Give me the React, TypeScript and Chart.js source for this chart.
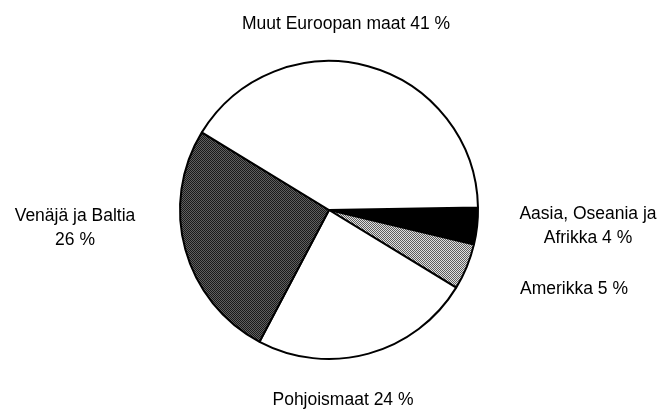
import React, { useEffect, useRef } from "react";
import { Chart, registerables } from "chart.js";

Chart.register(...registerables);

const categories = [
  "Aasia, Oseania ja Afrikka",
  "Amerikka",
  "Pohjoismaat",
  "Venäjä ja Baltia",
  "Muut Euroopan maat",
];
const shares = [4, 5, 24, 26, 41];

// label layout: lines (with value placeholder), center x, first baseline y
const labelLayout = [
  { lines: ["Aasia, Oseania ja", "Afrikka {v} %"], x: 588, y: 219 },
  { lines: ["Amerikka {v} %"], x: 574, y: 294 },
  { lines: ["Pohjoismaat {v} %"], x: 343, y: 405 },
  { lines: ["Venäjä ja Baltia", "{v} %"], x: 75, y: 221 },
  { lines: ["Muut Euroopan maat {v} %"], x: 346, y: 29 },
];

function makePattern(a: string, b: string, size = 2) {
  const c = document.createElement("canvas");
  c.width = size;
  c.height = size;
  const ctx = c.getContext("2d")!;
  ctx.fillStyle = a;
  ctx.fillRect(0, 0, size, size);
  ctx.fillStyle = b;
  ctx.fillRect(0, 0, 1, 1);
  ctx.fillRect(1, 1, 1, 1);
  return ctx.createPattern(c, "repeat")!;
}

const labelPlugin = {
  id: "outerLabels",
  afterDraw(chart: any) {
    const ctx = chart.ctx;
    const vals = chart.data.datasets[0].data;
    ctx.save();
    ctx.fillStyle = "#000";
    ctx.font = "17.5px 'Liberation Sans', Arial, sans-serif";
    ctx.textAlign = "center";
    ctx.textBaseline = "alphabetic";
    labelLayout.forEach((l, i) => {
      l.lines.forEach((line, j) => {
        ctx.fillText(line.replace("{v}", String(vals[i])), l.x, l.y + j * 24);
      });
    });
    ctx.restore();
  },
};

export default function App() {
  const ref = useRef<HTMLCanvasElement>(null);
  useEffect(() => {
    const colors = [
      "#000000",
      makePattern("#e0e0e0", "#5e5e5e"),
      "#ffffff",
      makePattern("#606060", "#1a1a1a"),
      "#ffffff",
    ];
    const chart = new Chart(ref.current!, {
      type: "pie",
      data: {
        labels: categories,
        datasets: [
          {
            data: shares,
            backgroundColor: colors as any,
            borderColor: "#000",
            borderWidth: 2,
          },
        ],
      },
      options: {
        responsive: false,
        animation: false,
        rotation: 89,
        layout: { padding: { top: 60, bottom: 52, left: 0, right: 1 } },
        plugins: { legend: { display: false }, tooltip: { enabled: false } },
      },
      plugins: [labelPlugin],
    });
    return () => chart.destroy();
  }, []);
  return (
    <div style={{ position: "fixed", left: 0, top: 0, width: 659, height: 412, background: "#fff" }}>
      <canvas ref={ref} width={659} height={412} />
    </div>
  );
}
